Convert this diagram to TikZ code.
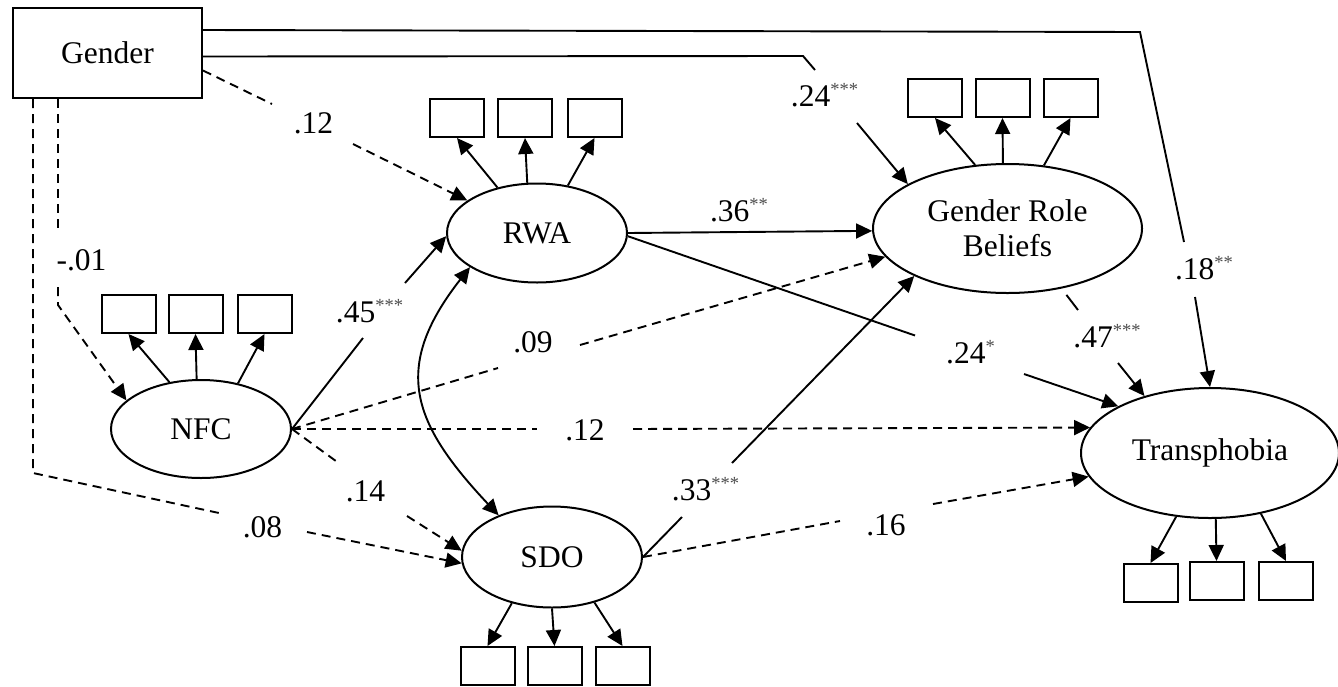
\documentclass[tikz,border=0pt]{standalone}
\usepackage{fontspec}
\setmainfont{Liberation Serif}
\usetikzlibrary{arrows.meta,shapes.geometric}
\newcommand\sig[1]{\raisebox{10.5pt}{\fontsize{18.5}{18.5}\selectfont\color{black!70}#1}}
\begin{document}
\begin{tikzpicture}[x=1pt,y=-1pt,
  every node/.style={font=\fontsize{31.5}{35}\selectfont},
  lat/.style={draw, ellipse, line width=2pt, inner sep=0pt, align=center},
  ind/.style={draw, rectangle, line width=2pt, minimum width=54pt, minimum height=38pt, inner sep=0pt},
  obs/.style={draw, rectangle, line width=2pt, minimum width=189pt, minimum height=90pt, inner sep=0pt},
  lbl/.style={inner sep=0pt, anchor=base},
  conn/.style={line width=1.9pt},
  tip/.style={-{Triangle[length=16pt,width=15pt]}},
  arr/.style={conn, tip},
  dsh/.style={dash pattern=on 9pt off 6pt}]
\fill[white] (0,0) rectangle (1338,686);
\useasboundingbox (0,0) rectangle (1338,686);

% main nodes
\node[obs] (gender) at (107.5,53) {Gender};
\node[lat, minimum width=180pt, minimum height=99pt] (rwa) at (537,233) {RWA};
\node[lat, minimum width=269pt, minimum height=129pt] (grb) at (1007.5,228.5) {Gender Role\\Beliefs};
\node[lat, minimum width=180pt, minimum height=98pt] (nfc) at (201,429) {NFC};
\node[lat, minimum width=180pt, minimum height=101pt] (sdo) at (552,557) {SDO};
\node[lat, minimum width=258pt, minimum height=130pt] (trans) at (1210,453) {Transphobia};

% indicators
\node[ind] (r1) at (457,118) {};
\node[ind] (r2) at (525,118) {};
\node[ind] (r3) at (594.5,118) {};
\node[ind] (g1) at (935,98) {};
\node[ind] (g2) at (1002.5,98) {};
\node[ind] (g3) at (1070.5,98) {};
\node[ind] (n1) at (128.5,314) {};
\node[ind] (n2) at (195.5,314) {};
\node[ind] (n3) at (264.5,314) {};
\node[ind] (s1) at (487.5,666) {};
\node[ind] (s2) at (554.5,666) {};
\node[ind] (s3) at (622.5,666) {};
\node[ind] (t1) at (1150.5,583) {};
\node[ind] (t2) at (1216.5,581) {};
\node[ind] (t3) at (1286,581) {};

\draw[arr] (rwa.131) -- (r1.south);
\draw[arr] (rwa.101) -- (r2.south);
\draw[arr] (rwa.57) -- (r3.south);
\draw[arr] (grb.117) -- (g1.south);
\draw[arr] (grb.94) -- (g2.south);
\draw[arr] (grb.60) -- (g3.south);
\draw[arr] (nfc.124) -- (n1.south);
\draw[arr] (nfc.95) -- (n2.south);
\draw[arr] (nfc.51) -- (n3.south);
\draw[arr] (sdo.229) -- (s1.north);
\draw[arr] (sdo.270) -- (s2.north);
\draw[arr] (sdo.313) -- (s3.north);
\draw[arr] (trans.242) -- (t1.north);
\draw[arr] (trans.275) -- (t2.north);
\draw[arr] (trans.310) -- (t3.north);

% gap coordinates
\coordinate (a1) at (1140,32);
\coordinate (a2) at (1184,242);
\coordinate (a3) at (1195,297);
\coordinate (b1) at (803,56);
\coordinate (b2) at (815,70);
\coordinate (b3) at (857,123);
\coordinate (c1) at (272,104);
\coordinate (c2) at (353,144);
\coordinate (d1) at (58,230);
\coordinate (d2) at (58,287);
\coordinate (d3) at (58,305);
\coordinate (e1) at (33,473);
\coordinate (e2) at (219,513);
\coordinate (e3) at (307,532);
\coordinate (f1) at (363,338);
\coordinate (f2) at (405,283);
\coordinate (h1) at (915,335.5);
\coordinate (h2) at (1024,374);
\coordinate (i1) at (1078,310);
\coordinate (i2) at (1118,363);
\coordinate (j1) at (498,368);
\coordinate (j2) at (580,345);
\coordinate (k1) at (537,429);
\coordinate (k2) at (633,429);
\coordinate (l1) at (340,464);
\coordinate (l2) at (407,516);
\coordinate (m1) at (682,517);
\coordinate (m2) at (732,463);
\coordinate (o1) at (840,521);
\coordinate (o2) at (933,504);

% Gender paths
\draw[conn] ([yshift=23pt]gender.east) -- (a1) -- (a2);
\draw[arr] (a3) -- (trans.north);
\node[lbl] at (1204,279) {.18\sig{**}};

\draw[conn] ([yshift=-3.5pt]gender.east) -- (b1) -- (b2);
\draw[arr] (b3) -- (grb.156);
\node[lbl] at (824.5,106) {.24\sig{***}};

\draw[conn,dsh] ([yshift=-17.5pt]gender.east) -- (c1);
\draw[arr,dsh] (c2) -- (rwa.155);
\node[lbl] at (313.5,133) {.12};

\draw[conn,dsh] ([xshift=-49.5pt]gender.south) -- (d1);
\draw[arr,dsh] (d2) -- (d3) -- (nfc.159);
\node[lbl] at (81.5,270) {-.01};

\draw[conn,dsh] ([xshift=-74.5pt]gender.south) -- (e1) -- (e2);
\draw[arr,dsh] (e3) -- (sdo.184);
\node[lbl] at (262.5,537) {.08};

% NFC paths
\draw[conn] (nfc.east) -- (f1);
\draw[arr] (f2) -- (rwa.182);
\node[lbl] at (369.5,322) {.45\sig{***}};

\draw[conn,dsh] (nfc.east) -- (j1);
\draw[arr,dsh] (j2) -- (grb.193);
\node[lbl] at (533,352) {.09};

\draw[conn,dsh] (nfc.east) -- (k1);
\draw[arr,dsh] (k2) -- (trans.168);
\node[lbl] at (585,440) {.12};

\draw[conn,dsh] (nfc.east) -- (l1);
\draw[arr,dsh] (l2) -- (sdo.176);
\node[lbl] at (365.5,501) {.14};

% RWA paths
\draw[conn,{Triangle[length=16pt,width=15pt]}-{Triangle[length=16pt,width=15pt]}]
  (rwa.207) .. controls (391,368) and (412,423) .. (sdo.142);

\draw[arr] (rwa.east) -- (grb.181);
\node[lbl] at (739,221) {.36\sig{**}};

\draw[conn] (rwa.-2) -- (h1);
\draw[arr] (h2) -- (trans.153);
\node[lbl] at (970.5,363) {.24\sig{*}};

% GRB -> Transphobia
\draw[conn, shorten <=8pt] (grb.-48) -- (i1);
\draw[arr] (i2) -- (trans.139);
\node[lbl] at (1107,347) {.47\sig{***}};

% SDO paths
\draw[conn] (sdo.east) -- (m1);
\draw[arr] (m2) -- (grb.207);
\node[lbl] at (705.5,500) {.33\sig{***}};

\draw[conn,dsh] (sdo.east) -- (o1);
\draw[arr,dsh] (o2) -- (trans.191);
\node[lbl] at (886,535) {.16};
\end{tikzpicture}
\end{document}
